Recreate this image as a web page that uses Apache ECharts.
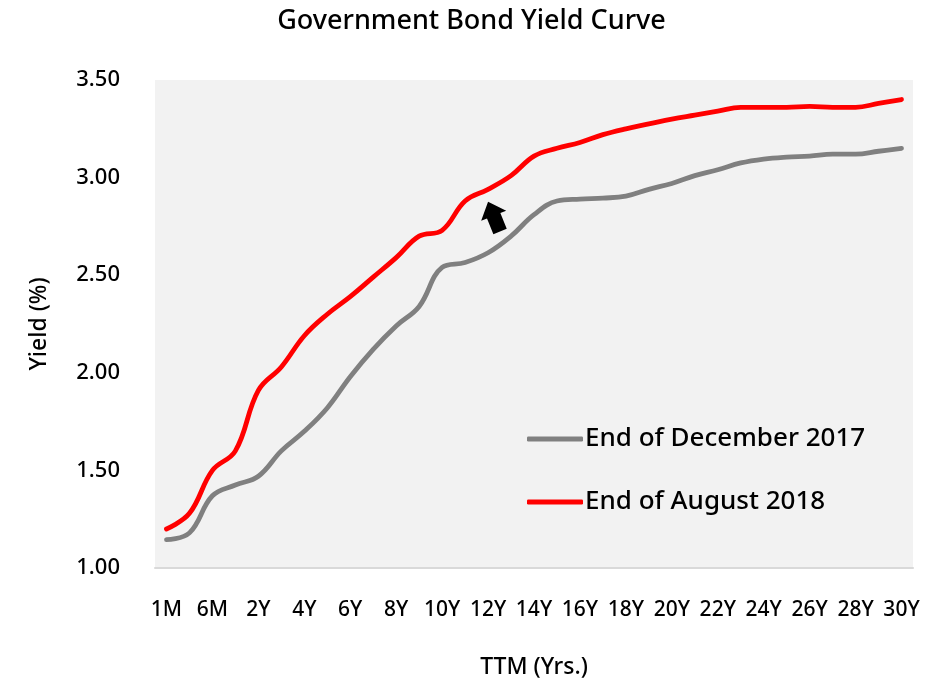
<!DOCTYPE html>
<html>
<head>
<meta charset="utf-8">
<script src="https://cdn.jsdelivr.net/npm/echarts@6/dist/echarts.min.js"></script>
<style>
  html, body { margin: 0; padding: 0; background: #fff; }
  #chart { width: 943px; height: 684px; }
</style>
</head>
<body>
<div id="chart"></div>
<script>
// Time-to-maturity buckets (every other one is labelled on the axis)
const tenors = ['1M', '3M', '6M', '1Y', '2Y', '3Y', '4Y', '5Y', '6Y', '7Y', '8Y', '9Y', '10Y',
  '11Y', '12Y', '13Y', '14Y', '15Y', '16Y', '17Y', '18Y', '19Y', '20Y', '21Y', '22Y', '23Y',
  '24Y', '25Y', '26Y', '27Y', '28Y', '29Y', '30Y'];

// Yields (%) at each tenor
const yieldDec2017 = [1.145, 1.18, 1.37, 1.425, 1.47, 1.60, 1.70, 1.82, 1.98, 2.12, 2.24, 2.34, 2.54,
  2.565, 2.615, 2.70, 2.81, 2.88, 2.89, 2.895, 2.905, 2.94, 2.97, 3.01, 3.04, 3.075,
  3.095, 3.105, 3.11, 3.12, 3.12, 3.135, 3.15];
const yieldAug2018 = [1.20, 1.28, 1.50, 1.60, 1.91, 2.03, 2.19, 2.30, 2.39, 2.49, 2.59, 2.70, 2.73,
  2.88, 2.94, 3.01, 3.11, 3.15, 3.18, 3.22, 3.25, 3.275, 3.30, 3.32, 3.34, 3.36,
  3.36, 3.36, 3.365, 3.36, 3.36, 3.38, 3.40];

const seriesNames = ['End of December 2017', 'End of August 2018'];
const yTicks = { min: 1.0, max: 3.5, step: 0.5 };

const FONT = '"Noto Sans", sans-serif';
const WEIGHT = 500;

const chart = echarts.init(document.getElementById('chart'), null, { renderer: 'canvas' });

chart.setOption({
  animation: false,
  backgroundColor: '#ffffff',
  title: {
    text: 'Government Bond Yield Curve',
    left: 'center',
    top: 3,
    textStyle: { fontFamily: FONT, fontSize: 27, fontWeight: WEIGHT, color: '#000' }
  },
  grid: {
    left: 155, right: 30, top: 80, bottom: 114,
    show: true, backgroundColor: '#f2f2f2', borderWidth: 0
  },
  legend: {
    orient: 'vertical',
    left: 527,
    top: 424,
    padding: 0,
    itemWidth: 56,
    itemHeight: 5,
    itemGap: 33,
    icon: 'roundRect',
    textStyle: { fontFamily: FONT, fontSize: 26, fontWeight: WEIGHT, color: '#000', lineHeight: 30, padding: [0, 0, 0, -3] },
    data: seriesNames
  },
  xAxis: {
    type: 'category',
    data: tenors,
    boundaryGap: true,
    name: 'TTM (Yrs.)',
    nameLocation: 'middle',
    nameGap: 88,
    nameTextStyle: { fontFamily: FONT, fontSize: 23, fontWeight: WEIGHT, color: '#000' },
    axisLine: { show: true, lineStyle: { color: '#d9d9d9', width: 2 } },
    axisTick: { show: false },
    axisLabel: {
      interval: 1,
      margin: 32,
      fontFamily: FONT,
      fontSize: 21,
      fontWeight: WEIGHT,
      color: '#000'
    },
    splitLine: { show: false }
  },
  yAxis: {
    type: 'value',
    min: yTicks.min,
    max: yTicks.max,
    interval: yTicks.step,
    name: 'Yield (%)',
    nameLocation: 'middle',
    nameGap: 104,
    nameRotate: 90,
    nameTextStyle: { fontFamily: FONT, fontSize: 23, fontWeight: WEIGHT, color: '#000' },
    axisLine: { show: false },
    axisTick: { show: false },
    splitLine: { show: false },
    axisLabel: {
      margin: 35,
      fontFamily: FONT,
      fontSize: 22,
      fontWeight: WEIGHT,
      color: '#000',
      formatter: v => v.toFixed(2)
    }
  },
  series: [
    {
      name: seriesNames[0],
      type: 'line',
      data: yieldDec2017,
      smooth: 0.4,
      showSymbol: false,
      symbol: 'none',
      itemStyle: { color: '#808080' },
      lineStyle: { color: '#808080', width: 4.8, cap: 'round', join: 'round' },
      z: 2
    },
    {
      name: seriesNames[1],
      type: 'line',
      data: yieldAug2018,
      smooth: 0.4,
      showSymbol: false,
      symbol: 'none',
      itemStyle: { color: '#ff0000' },
      lineStyle: { color: '#ff0000', width: 4.8, cap: 'round', join: 'round' },
      z: 3
    }
  ]
});

// Block arrow between the curves, pointing toward the higher (later) curve
const anchor = chart.convertToPixel({ gridIndex: 0 }, ['12Y', 2.8]);
chart.setOption({
  graphic: [{
    type: 'polygon',
    x: anchor[0] + 6,
    y: anchor[1],
    rotation: 22 * Math.PI / 180,
    shape: {
      points: [[0, -16], [-13.5, -1], [-7.2, -1], [-7.2, 16], [7.2, 16], [7.2, -1], [13.5, -1]]
    },
    style: { fill: '#000' },
    z: 10
  }]
});
</script>
</body>
</html>
